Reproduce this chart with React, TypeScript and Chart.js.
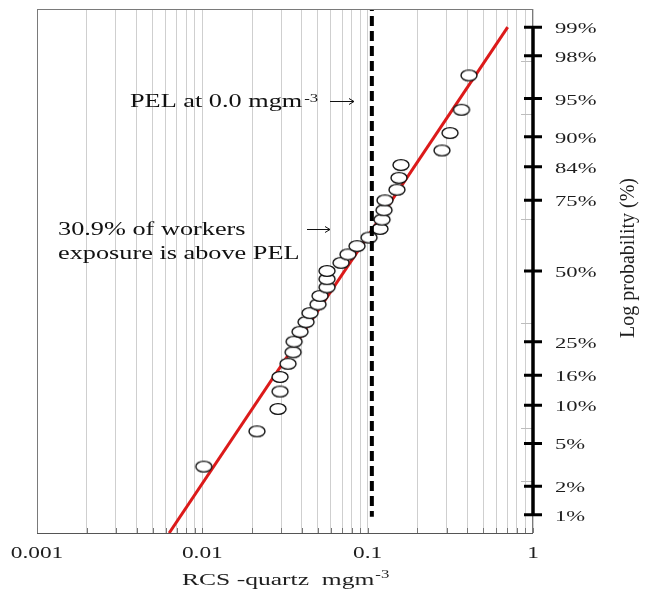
import React, { useEffect, useRef } from "react";
import { Chart, registerables } from "chart.js";

Chart.register(...registerables);

// ---- data ----
const SAMPLE_X: number[] = [
  0.0102, 0.0214, 0.0287, 0.0295, 0.0295, 0.033, 0.0354, 0.0359, 0.039, 0.0424,
  0.0448, 0.0501, 0.0515, 0.0568, 0.0568, 0.0568, 0.069, 0.076, 0.0862, 0.1019,
  0.1187, 0.1221, 0.1256, 0.1273, 0.1504, 0.1547, 0.159, 0.2815, 0.3148, 0.3694,
  0.4101,
];
const SAMPLE_P: number[] = [
  3.1, 6.3, 9.4, 12.5, 15.6, 18.8, 21.9, 25.0, 28.1, 31.3, 34.4, 37.5, 40.6, 43.8,
  46.9, 50.0, 53.1, 56.3, 59.4, 62.5, 65.6, 68.8, 71.9, 75.0, 78.1, 81.3, 84.4,
  87.5, 90.6, 93.8, 96.9,
];
const FIT_X: number[] = [0.0063, 0.703];
const FIT_P: number[] = [0.62, 99.0];
const PEL_X: number[] = [0.106, 0.106];
const PEL_P: number[] = [99.5, 0.95];

const X_GRID: number[] = [
  0.001, 0.002, 0.003, 0.004, 0.005, 0.006, 0.007, 0.008, 0.009,
  0.01, 0.02, 0.03, 0.04, 0.05, 0.06, 0.07, 0.08, 0.09,
  0.1, 0.2, 0.3, 0.4, 0.5, 0.6, 0.7, 0.8, 0.9, 1,
];
const X_LABEL_VALUES: number[] = [0.001, 0.01, 0.1, 1];
const X_LABELS: string[] = ["0.001", "0.01", "0.1", "1"];
const Y_TICKS: number[] = [1, 2, 5, 10, 16, 25, 50, 75, 84, 90, 95, 98, 99];
const Y_MINOR_Z: number[] = [-2, -1.5, -0.5, 0.5, 1.5, 2];

// inverse standard normal (Acklam)
function probit(pct: number): number {
  const p = pct / 100;
  const a = [-3.969683028665376e1, 2.209460984245205e2, -2.759285104469687e2, 1.38357751867269e2, -3.066479806614716e1, 2.506628277459239];
  const b = [-5.447609879822406e1, 1.615858368580409e2, -1.556989798598866e2, 6.680131188771972e1, -1.328068155288572e1];
  const c = [-7.784894002430293e-3, -3.223964580411365e-1, -2.400758277161838, -2.549732539343734, 4.374664141464968, 2.938163982698783];
  const d = [7.784695709041462e-3, 3.224671290700398e-1, 2.445134137142996, 3.754408661907416];
  const plow = 0.02425;
  if (p < plow) {
    const q = Math.sqrt(-2 * Math.log(p));
    return (((((c[0] * q + c[1]) * q + c[2]) * q + c[3]) * q + c[4]) * q + c[5]) / ((((d[0] * q + d[1]) * q + d[2]) * q + d[3]) * q + 1);
  }
  if (p <= 1 - plow) {
    const q = p - 0.5;
    const r = q * q;
    return ((((((a[0] * r + a[1]) * r + a[2]) * r + a[3]) * r + a[4]) * r + a[5]) * q) / (((((b[0] * r + b[1]) * r + b[2]) * r + b[3]) * r + b[4]) * r + 1);
  }
  const q = Math.sqrt(-2 * Math.log(1 - p));
  return -(((((c[0] * q + c[1]) * q + c[2]) * q + c[3]) * q + c[4]) * q + c[5]) / ((((d[0] * q + d[1]) * q + d[2]) * q + d[3]) * q + 1);
}

const FONT = '"Liberation Serif", "Times New Roman", serif';
const SX = 1.46;

function sText(ctx: CanvasRenderingContext2D, txt: string, x: number, y: number, size: number, align: string = "left", sx: number = SX): number {
  ctx.save();
  ctx.font = `${size}px ${FONT}`;
  const w = ctx.measureText(txt).width * sx;
  const x0 = align === "center" ? x - w / 2 : align === "right" ? x - w : x;
  ctx.translate(x0, y);
  ctx.scale(sx, 1);
  ctx.textAlign = "left";
  ctx.textBaseline = "alphabetic";
  ctx.fillText(txt, 0, 0);
  ctx.restore();
  return w;
}

function arrow(ctx: CanvasRenderingContext2D, x1: number, x2: number, y: number) {
  ctx.save();
  ctx.strokeStyle = "#111";
  ctx.lineWidth = 1;
  ctx.beginPath();
  ctx.moveTo(x1, y);
  ctx.lineTo(x2, y);
  ctx.moveTo(x2 - 5, y - 3);
  ctx.lineTo(x2, y);
  ctx.lineTo(x2 - 5, y + 3);
  ctx.stroke();
  ctx.restore();
}

const decorPlugin = {
  id: "decor",
  afterDraw(chart: any) {
    const ctx: CanvasRenderingContext2D = chart.ctx;
    const { left, right, top, bottom } = chart.chartArea;
    const xs = chart.scales.x;
    const ys = chart.scales.y;
    ctx.save();
    // frame
    ctx.strokeStyle = "#7a7a7a";
    ctx.lineWidth = 1;
    ctx.strokeRect(left + 0.5, top + 0.5, right - left - 1, bottom - top);
    ctx.strokeStyle = "#555";
    ctx.beginPath();
    ctx.moveTo(left, bottom + 0.5);
    ctx.lineTo(right, bottom + 0.5);
    ctx.stroke();
    // bottom minor tick stubs
    ctx.strokeStyle = "#777";
    ctx.beginPath();
    for (const v of X_GRID) {
      const px = Math.round(xs.getPixelForValue(v)) + 0.5;
      ctx.moveTo(px, bottom - 5);
      ctx.lineTo(px, bottom);
    }
    ctx.stroke();
    // minor grey stubs at right axis
    ctx.strokeStyle = "#bdbdbd";
    ctx.beginPath();
    for (const z of Y_MINOR_Z) {
      const py = Math.round(ys.getPixelForValue(z)) + 0.5;
      ctx.moveTo(right - 12, py);
      ctx.lineTo(right, py);
    }
    ctx.stroke();
    // thick right axis
    const ax = right;
    const yTop = ys.getPixelForValue(probit(99));
    const yBot = ys.getPixelForValue(probit(1));
    ctx.strokeStyle = "#000";
    ctx.lineWidth = 3.5;
    ctx.beginPath();
    ctx.moveTo(ax, yTop - 1);
    ctx.lineTo(ax, yBot + 1);
    ctx.stroke();
    ctx.lineWidth = 3;
    ctx.beginPath();
    for (const t of Y_TICKS) {
      const py = ys.getPixelForValue(probit(t));
      ctx.moveTo(ax - 9, py);
      ctx.lineTo(ax + 9, py);
    }
    ctx.stroke();
    // y tick labels
    ctx.fillStyle = "#1e1e1e";
    for (const t of Y_TICKS) {
      const py = ys.getPixelForValue(probit(t));
      sText(ctx, `${t}%`, 555, py + 6, 15.5);
    }
    // x tick labels
    X_LABEL_VALUES.forEach((v, i) => {
      sText(ctx, X_LABELS[i], xs.getPixelForValue(v), 558, 16, "center");
    });
    // x title
    const w1 = sText(ctx, "RCS -quartz  mgm", 182, 585, 17.5);
    sText(ctx, "-3", 182 + w1 + 1, 577.5, 11.5);
    // y title
    ctx.save();
    ctx.translate(634, 258);
    ctx.rotate(-Math.PI / 2);
    ctx.font = `20px ${FONT}`;
    ctx.textAlign = "center";
    ctx.textBaseline = "alphabetic";
    ctx.fillText("Log probability (%)", 0, 0);
    ctx.restore();
    // annotations
    ctx.fillStyle = "#111";
    const w2 = sText(ctx, "PEL at 0.0 mgm", 130, 107, 18);
    sText(ctx, "-3", 130 + w2 + 2, 101.5, 11.5);
    arrow(ctx, 330, 354, 101.5);
    sText(ctx, "30.9% of workers", 58, 235, 18);
    sText(ctx, "exposure is above PEL", 58, 258.5, 18);
    arrow(ctx, 307, 330, 229.5);
    ctx.restore();
  },
};

export default function App() {
  const ref = useRef<HTMLCanvasElement | null>(null);
  useEffect(() => {
    if (!ref.current) return;
    const mk = document.createElement("canvas");
    mk.width = 20;
    mk.height = 14;
    const g = mk.getContext("2d")!;
    g.beginPath();
    g.ellipse(10, 7, 8.0, 5.4, 0, 0, Math.PI * 2);
    g.fillStyle = "#fff";
    g.fill();
    g.lineWidth = 1.4;
    g.strokeStyle = "#111";
    g.stroke();

    const points = SAMPLE_X.map((x, i) => ({ x, y: probit(SAMPLE_P[i]) }));
    const fit = FIT_X.map((x, i) => ({ x, y: probit(FIT_P[i]) }));
    const pel = PEL_X.map((x, i) => ({ x, y: probit(PEL_P[i]) }));

    const chart = new Chart(ref.current, {
      type: "scatter",
      data: {
        datasets: [
          {
            label: "PEL",
            data: pel,
            showLine: true,
            borderColor: "#000",
            borderWidth: 4,
            borderDash: [10, 5],
            pointRadius: 0,
            order: 0,
          },
          {
            label: "samples",
            data: points,
            pointStyle: mk as any,
            pointRadius: 8,
            order: 1,
          },
          {
            label: "fit",
            data: fit,
            showLine: true,
            borderColor: "#dc1a1a",
            borderWidth: 3,
            pointRadius: 0,
            order: 2,
          },
        ],
      } as any,
      options: {
        responsive: false,
        animation: false,
        devicePixelRatio: 1,
        layout: { padding: { left: 37, top: 5, right: 0, bottom: 0 } },
        plugins: { legend: { display: false }, tooltip: { enabled: false } },
        scales: {
          x: {
            type: "logarithmic",
            min: 0.001,
            max: 1,
            position: "bottom",
            afterBuildTicks: (s: any) => {
              s.ticks = X_GRID.map((v) => ({ value: v }));
            },
            afterFit: (s: any) => {
              s.height = 60;
            },
            ticks: { display: false },
            grid: { color: "#cfcfcf", lineWidth: 1, drawTicks: false },
            border: { display: false },
          },
          y: {
            type: "linear",
            min: -2.5,
            max: 2.5,
            position: "right",
            afterFit: (s: any) => {
              s.width = 112;
            },
            ticks: { display: false },
            grid: { display: false },
            border: { display: false },
          },
        },
      } as any,
      plugins: [decorPlugin],
    });
    return () => chart.destroy();
  }, []);
  return (
    <div style={{ position: "absolute", left: 0, top: 0, width: 645, height: 593, background: "#fff" }}>
      <canvas ref={ref} width={645} height={593} style={{ display: "block" }} />
    </div>
  );
}
